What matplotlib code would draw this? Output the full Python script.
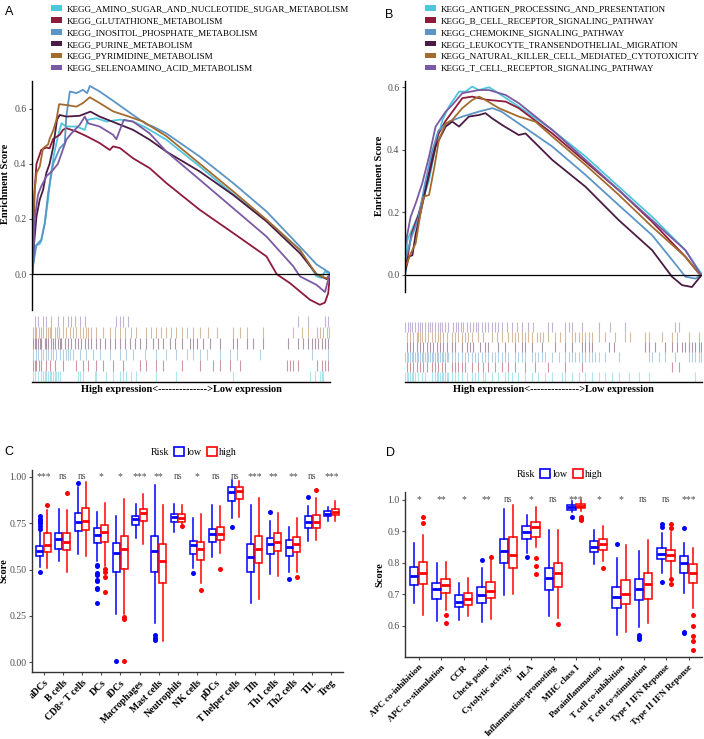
import matplotlib
matplotlib.use('Agg')
import matplotlib.pyplot as plt
from matplotlib.patches import Patch
from matplotlib.lines import Line2D

plt.rcParams['font.family'] = ['Liberation Serif', 'DejaVu Serif']

# ---------------- GSEA data (x = rank position in %, y = enrichment score) ----------------
A_names = ['KEGG_AMINO_SUGAR_AND_NUCLEOTIDE_SUGAR_METABOLISM', 'KEGG_GLUTATHIONE_METABOLISM',
           'KEGG_INOSITOL_PHOSPHATE_METABOLISM', 'KEGG_PURINE_METABOLISM',
           'KEGG_PYRIMIDINE_METABOLISM', 'KEGG_SELENOAMINO_ACID_METABOLISM']
B_names = ['KEGG_ANTIGEN_PROCESSING_AND_PRESENTATION', 'KEGG_B_CELL_RECEPTOR_SIGNALING_PATHWAY',
           'KEGG_CHEMOKINE_SIGNALING_PATHWAY', 'KEGG_LEUKOCYTE_TRANSENDOTHELIAL_MIGRATION',
           'KEGG_NATURAL_KILLER_CELL_MEDIATED_CYTOTOXICITY', 'KEGG_T_CELL_RECEPTOR_SIGNALING_PATHWAY']
gsea_colors = ['#4ec6db', '#8e1b3b', '#5b95c6', '#4a1c44', '#a36b2d', '#7a5aa3']

A_x = [
    [0.3, 0.9, 2.6, 3.1, 4.3, 5.4, 6.2, 7.3, 8.7, 9.9, 11.5, 14.9, 17.7, 18.8, 21.6, 25.0, 29.5, 33.9,
     38.4, 45.1, 56.3, 67.5, 78.7, 89.9, 95.5, 97.2, 98.3, 100],
    [0.3, 0.9, 1.5, 3.1, 4.8, 5.9, 7.1, 9.3, 10.4, 11.5, 14.9, 18.3, 22.7, 26.1, 27.2, 29.5, 33.9, 39.5,
     45.1, 56.3, 67.5, 78.7, 82.1, 86.6, 93.3, 96.6, 98.3, 99.4, 100],
    [0.3, 1.5, 3.1, 4.3, 5.4, 7.1, 9.3, 11.0, 11.5, 12.7, 14.9, 17.1, 18.5, 19.4, 22.7, 28.3, 33.9, 38.4,
     40.6, 45.1, 56.3, 67.5, 78.7, 89.9, 95.5, 100],
    [0.3, 1.5, 2.6, 3.7, 4.8, 5.9, 7.1, 8.4, 9.3, 11.5, 16.0, 19.6, 22.7, 28.3, 33.9, 39.5, 45.1, 56.3,
     67.5, 78.7, 89.9, 95.5, 98.9, 100],
    [0.3, 0.7, 1.5, 2.6, 3.7, 5.4, 5.9, 7.1, 8.2, 9.1, 11.5, 14.9, 17.1, 19.4, 22.7, 27.2, 31.7, 37.3,
     45.1, 56.3, 67.5, 78.7, 89.9, 95.5, 98.9, 100],
    [0.3, 0.9, 2.0, 3.1, 4.8, 7.1, 8.7, 11.5, 13.2, 16.0, 17.7, 18.8, 22.7, 27.2, 28.3, 30.8, 33.9, 39.5,
     45.1, 56.3, 67.5, 78.7, 87.7, 89.9, 95.5, 98.3, 99.4, 100],
]
A_es = [
    [0.028, 0.10, 0.11, 0.12, 0.185, 0.27, 0.35, 0.43, 0.50, 0.547, 0.535, 0.535, 0.523, 0.56, 0.565,
     0.553, 0.56, 0.553, 0.53, 0.487, 0.39, 0.29, 0.197, 0.088, -0.008, -0.014, 0.01, 0.0],
    [0.076, 0.305, 0.40, 0.45, 0.459, 0.456, 0.49, 0.505, 0.523, 0.529, 0.517, 0.50, 0.475, 0.45, 0.463,
     0.457, 0.42, 0.384, 0.33, 0.233, 0.149, 0.064, 0.0, -0.033, -0.093, -0.111, -0.103, -0.069, 0.0],
    [0.028, 0.106, 0.124, 0.185, 0.293, 0.40, 0.456, 0.475, 0.571, 0.662, 0.656, 0.668, 0.656, 0.682,
     0.662, 0.62, 0.577, 0.543, 0.535, 0.51, 0.426, 0.33, 0.227, 0.10, 0.035, 0.004],
    [0.064, 0.209, 0.27, 0.305, 0.366, 0.40, 0.46, 0.56, 0.577, 0.571, 0.574, 0.589, 0.571, 0.547,
     0.523, 0.487, 0.444, 0.372, 0.287, 0.191, 0.076, 0.0, -0.018, 0.0],
    [0.05, 0.28, 0.366, 0.39, 0.456, 0.47, 0.49, 0.52, 0.56, 0.616, 0.613, 0.607, 0.62, 0.641, 0.62,
     0.59, 0.574, 0.553, 0.50, 0.40, 0.30, 0.197, 0.088, -0.002, -0.015, 0.0],
    [0.004, 0.197, 0.287, 0.318, 0.354, 0.378, 0.40, 0.487, 0.51, 0.541, 0.571, 0.547, 0.535, 0.505,
     0.489, 0.559, 0.553, 0.51, 0.444, 0.342, 0.239, 0.136, 0.028, -0.008, -0.039, -0.065, -0.02, 0.0],
]

B_x = [
    [0.2, 0.8, 4.7, 8.1, 10.3, 12.6, 14.8, 18.2, 20.4, 22.6, 24.9, 28.3, 31.6, 38.3, 49.6, 60.8, 72.0,
     83.2, 94.4, 97.8, 100],
    [0.2, 2.2, 4.5, 6.7, 9.0, 11.2, 13.5, 16.6, 19.3, 22.6, 27.4, 33.9, 38.3, 49.6, 60.8, 72.0, 83.2,
     94.4, 99.0, 100],
    [0.2, 2.2, 4.5, 6.7, 9.0, 11.2, 13.5, 16.3, 19.3, 24.9, 29.4, 32.5, 38.3, 49.6, 60.8, 72.0, 83.2,
     90.0, 94.4, 97.8, 100],
    [0.2, 1.3, 2.5, 3.6, 4.7, 6.9, 10.3, 13.7, 15.9, 18.2, 21.5, 24.9, 27.1, 29.4, 32.7, 38.3, 40.6,
     49.6, 60.8, 72.0, 83.2, 89.9, 93.3, 96.6, 98.9, 100],
    [0.2, 1.9, 3.6, 5.2, 6.3, 8.1, 9.9, 11.4, 13.7, 15.9, 19.3, 22.6, 24.9, 27.1, 31.6, 38.3, 43.9,
     49.6, 60.8, 72.0, 83.2, 94.4, 99.0, 100],
    [0.2, 1.9, 3.6, 5.8, 8.1, 10.3, 13.7, 15.9, 19.3, 24.9, 28.3, 33.9, 38.3, 49.6, 60.8, 72.0, 83.2,
     94.4, 99.4, 100],
]
B_es = [
    [0.003, 0.11, 0.196, 0.303, 0.41, 0.495, 0.538, 0.586, 0.586, 0.602, 0.591, 0.60, 0.58, 0.538,
     0.463, 0.378, 0.281, 0.185, 0.078, 0.03, 0.0],
    [0.02, 0.13, 0.19, 0.27, 0.37, 0.45, 0.49, 0.53, 0.565, 0.57, 0.56, 0.554, 0.533, 0.452, 0.361,
     0.27, 0.169, 0.057, 0.003, 0.0],
    [0.05, 0.12, 0.18, 0.29, 0.39, 0.46, 0.48, 0.495, 0.506, 0.522, 0.533, 0.522, 0.484, 0.41, 0.319,
     0.222, 0.126, 0.046, -0.007, -0.013, 0.0],
    [0.014, 0.057, 0.062, 0.13, 0.175, 0.27, 0.41, 0.474, 0.49, 0.474, 0.506, 0.511, 0.517, 0.50, 0.479,
     0.447, 0.452, 0.367, 0.281, 0.174, 0.078, -0.007, -0.034, -0.04, -0.013, 0.0],
    [0.025, 0.067, 0.10, 0.196, 0.249, 0.255, 0.345, 0.431, 0.484, 0.495, 0.533, 0.559, 0.57, 0.559,
     0.533, 0.506, 0.49, 0.442, 0.351, 0.255, 0.153, 0.057, 0.003, 0.0],
    [0.1, 0.185, 0.228, 0.292, 0.378, 0.474, 0.522, 0.543, 0.581, 0.591, 0.591, 0.575, 0.549, 0.463,
     0.367, 0.27, 0.174, 0.078, 0.003, 0.0],
]

# gene-set hit ranks (ranked list of N genes)
A_N = 893
A_hits = [
    [3, 8, 18, 28, 33, 38, 43, 48, 53, 58, 63, 68, 73, 78, 83, 138, 143, 153, 188, 193, 223, 243, 263,
     273, 283, 298, 313, 373, 433, 603, 833, 848, 863, 868, 873],
    [3, 8, 13, 21, 28, 43, 53, 68, 93, 133, 153, 168, 193, 213, 243, 273, 323, 343, 373, 393, 448, 503,
     543, 563, 593, 623, 763, 773, 783, 798, 853, 868, 878, 888],
    [3, 13, 18, 28, 33, 43, 48, 58, 63, 73, 83, 93, 103, 108, 113, 123, 143, 163, 183, 203, 233, 263,
     283, 303, 338, 373, 403, 433, 463, 483, 503, 523, 563, 593, 613, 683, 838, 888],
    [3, 8, 13, 18, 23, 28, 38, 43, 48, 58, 63, 68, 78, 83, 88, 98, 108, 118, 128, 138, 148, 158, 168,
     178, 193, 203, 218, 233, 248, 263, 278, 293, 308, 323, 343, 363, 378, 393, 413, 428, 448, 473, 483,
     493, 513, 533, 563, 603, 613, 643, 663, 693, 768, 798, 813, 828, 838, 848, 858, 868, 878, 888],
    [3, 8, 13, 21, 28, 33, 43, 48, 53, 58, 68, 75, 81, 93, 103, 113, 123, 133, 143, 153, 163, 168, 178,
     193, 213, 233, 248, 263, 278, 298, 313, 343, 358, 373, 388, 403, 418, 433, 448, 463, 483, 503, 528,
     553, 603, 623, 643, 693, 783, 808, 828, 853, 863, 873, 883, 891],
    [8, 18, 33, 43, 58, 78, 93, 108, 118, 128, 143, 158, 253, 263, 273, 288, 798, 828, 878, 888],
]
B_N = 890
B_hits = [
    [0, 5, 10, 15, 20, 25, 30, 40, 50, 60, 80, 90, 95, 100, 105, 110, 115, 120, 125, 130, 140, 150, 160,
     170, 185, 200, 210, 220, 235, 240, 260, 280, 300, 310, 320, 340, 360, 380, 400, 420, 440, 470, 480,
     500, 520, 540, 560, 580, 600, 620, 640, 670, 700, 730, 870],
    [5, 15, 25, 35, 45, 55, 65, 80, 90, 100, 110, 120, 140, 150, 160, 170, 180, 200, 220, 235, 250, 270,
     290, 310, 330, 360, 390, 430, 480, 530, 800, 820],
    [0, 5, 10, 15, 20, 25, 30, 35, 40, 45, 50, 55, 60, 65, 70, 75, 80, 85, 90, 95, 100, 105, 110, 115,
     120, 125, 130, 140, 150, 160, 170, 180, 190, 200, 210, 220, 230, 240, 250, 260, 270, 280, 290, 300,
     310, 330, 340, 350, 360, 380, 390, 400, 410, 420, 440, 460, 480, 490, 500, 510, 520, 530, 540, 550,
     560, 570, 580, 600, 640, 730, 740, 760, 780, 810, 850, 860, 870, 880, 888],
    [5, 15, 25, 35, 45, 55, 65, 75, 85, 95, 105, 115, 125, 140, 150, 170, 185, 195, 205, 225, 240, 250,
     280, 300, 330, 350, 360, 380, 410, 450, 480, 500, 530, 540, 550, 560, 610, 625, 720, 730, 750, 780,
     800, 815, 830, 840, 850, 860, 870, 880, 888],
    [5, 15, 25, 35, 40, 45, 50, 60, 70, 80, 90, 98, 105, 115, 125, 140, 150, 160, 170, 180, 190, 200,
     220, 235, 260, 275, 290, 310, 320, 330, 340, 350, 360, 370, 380, 395, 405, 415, 430, 450, 465, 480,
     500, 510, 520, 530, 540, 550, 560, 580, 600, 630, 660, 675, 720, 730, 770, 800, 815, 850, 880],
    [0, 8, 15, 22, 30, 38, 45, 52, 60, 68, 75, 82, 90, 98, 105, 112, 120, 128, 145, 152, 160, 168, 175,
     185, 195, 205, 212, 220, 230, 240, 250, 260, 270, 280, 290, 305, 320, 335, 350, 370, 385, 430, 440,
     480, 490, 500, 530, 580, 615, 660, 810, 820],
]

# ---------------- Immune box plot data: (whislo, q1, median, q3, whishi) ----------------
C_cats = ['aDCs', 'B cells', 'CD8+ T cells', 'DCs', 'iDCs', 'Macrophages', 'Mast cells', 'Neutrophils',
          'NK cells', 'pDCs', 'T helper cells', 'Tfh', 'Th1 cells', 'Th2 cells', 'TIL', 'Treg']
C_sig = ['***', 'ns', 'ns', '*', '*', '***', '**', 'ns', '*', 'ns', 'ns', '***', '**', '**', 'ns', '***']
C_low = [
    (0.516, 0.573, 0.600, 0.626, 0.700), (0.546, 0.612, 0.662, 0.694, 0.827),
    (0.582, 0.706, 0.756, 0.804, 0.947), (0.546, 0.644, 0.685, 0.724, 0.810),
    (0.260, 0.484, 0.590, 0.644, 0.786), (0.670, 0.742, 0.774, 0.790, 0.852),
    (0.214, 0.484, 0.600, 0.683, 0.955), (0.700, 0.756, 0.783, 0.800, 0.854),
    (0.507, 0.582, 0.630, 0.653, 0.778), (0.568, 0.648, 0.689, 0.719, 0.849),
    (0.778, 0.867, 0.916, 0.947, 0.982), (0.320, 0.484, 0.568, 0.635, 0.845),
    (0.475, 0.582, 0.635, 0.671, 0.760), (0.484, 0.573, 0.623, 0.658, 0.730),
    (0.653, 0.724, 0.756, 0.786, 0.843), (0.760, 0.790, 0.800, 0.813, 0.835),
]
C_low_out = [
    [0.484, 0.72, 0.735, 0.75, 0.76, 0.77, 0.787], [], [0.968],
    [0.527, 0.518, 0.482, 0.473, 0.446, 0.438, 0.40, 0.393, 0.32], [0.005], [],
    [0.145, 0.132, 0.12], [], [0.479], [], [0.728], [], [0.808], [0.448], [0.89], [],
]
C_high = [
    (0.510, 0.594, 0.630, 0.698, 0.820), (0.488, 0.603, 0.650, 0.694, 0.822),
    (0.573, 0.715, 0.763, 0.831, 0.973), (0.520, 0.650, 0.700, 0.742, 0.858),
    (0.260, 0.505, 0.612, 0.680, 0.879), (0.635, 0.763, 0.804, 0.826, 0.907),
    (0.114, 0.427, 0.546, 0.640, 0.845), (0.745, 0.756, 0.778, 0.800, 0.849),
    (0.430, 0.552, 0.608, 0.649, 0.800), (0.587, 0.658, 0.690, 0.728, 0.842),
    (0.783, 0.879, 0.923, 0.947, 0.979), (0.340, 0.534, 0.609, 0.680, 0.884),
    (0.466, 0.600, 0.650, 0.694, 0.804), (0.484, 0.594, 0.639, 0.674, 0.778),
    (0.658, 0.724, 0.756, 0.792, 0.884), (0.763, 0.795, 0.811, 0.826, 0.867),
]
C_high_out = [
    [0.849], [0.911], [], [0.504, 0.486, 0.46, 0.38], [0.236, 0.242, 0.005], [], [], [0.735],
    [0.388], [0.502], [], [], [], [0.46], [0.929], [],
]

D_cats = ['APC co-inhibition', 'APC co-stimulation', 'CCR', 'Check point', 'Cytolytic activity', 'HLA',
          'Inflammation-promoting', 'MHC class I', 'Parainflammation', 'T cell co-inhibition',
          'T cell co-stimulation', 'Type I IFN Reponse', 'Type II IFN Reponse']
D_sig = ['*', '**', '*', '**', 'ns', '*', 'ns', '***', '*', '*', 'ns', 'ns', '***']
D_low = [
    (0.671, 0.729, 0.759, 0.787, 0.863), (0.615, 0.684, 0.716, 0.737, 0.800),
    (0.618, 0.658, 0.675, 0.696, 0.737), (0.610, 0.673, 0.698, 0.724, 0.782),
    (0.698, 0.800, 0.837, 0.877, 0.972), (0.830, 0.877, 0.898, 0.917, 0.953),
    (0.631, 0.714, 0.750, 0.782, 0.905), (0.961, 0.969, 0.977, 0.984, 0.996),
    (0.796, 0.833, 0.851, 0.868, 0.905), (0.571, 0.656, 0.690, 0.724, 0.816),
    (0.597, 0.680, 0.716, 0.747, 0.837), (0.766, 0.812, 0.829, 0.848, 0.895),
    (0.703, 0.768, 0.798, 0.821, 0.863),
]
D_low_out = [[], [], [], [0.81], [], [0.817], [], [0.947], [], [0.858], [0.571, 0.565, 0.557],
             [0.924, 0.914, 0.74], [0.912, 0.581, 0.576]]
D_high = [
    (0.634, 0.733, 0.768, 0.803, 0.887), (0.650, 0.703, 0.729, 0.747, 0.803),
    (0.629, 0.665, 0.684, 0.705, 0.750), (0.620, 0.687, 0.711, 0.740, 0.808),
    (0.700, 0.782, 0.824, 0.882, 0.985), (0.850, 0.882, 0.914, 0.928, 0.977),
    (0.624, 0.724, 0.766, 0.800, 0.905), (0.966, 0.975, 0.982, 0.987, 0.998),
    (0.805, 0.840, 0.859, 0.877, 0.916), (0.581, 0.669, 0.700, 0.745, 0.856),
    (0.608, 0.684, 0.732, 0.766, 0.872), (0.756, 0.805, 0.824, 0.842, 0.898),
    (0.655, 0.737, 0.766, 0.796, 0.848),
]
D_high_out = [[0.945, 0.926], [0.634, 0.608], [], [0.819], [], [0.814, 0.79, 0.763], [0.606],
              [0.947, 0.943, 0.939, 0.935], [0.784], [], [], [0.924, 0.91, 0.747, 0.733],
              [0.634, 0.599, 0.566, 0.551, 0.523]]

W, H = 704, 739
fig = plt.figure(figsize=(W / 100, H / 100), dpi=100)
GREY = '#4d4d4d'


def add_ax(x0, y0, x1, y1):
    return fig.add_axes([x0 / W, 1 - y1 / H, (x1 - x0) / W, (y1 - y0) / H])


def gsea_panel(x0, x1, y_top, y_bot, ylim, rug_top, rug_bot, xs, ess, hits, n, names, leg_x, ylab_x):
    ax = add_ax(x0, y_top, x1, y_bot)
    for x, e, c in zip(xs, ess, gsea_colors):
        ax.plot(x, e, color=c, lw=1.3)
    ax.axhline(0, color='black', lw=0.9)
    ax.set_xlim(0, 100)
    ax.set_ylim(*ylim)
    ax.set_yticks([0.0, 0.2, 0.4, 0.6])
    ax.set_yticklabels(['0.0', '0.2', '0.4', '0.6'])
    ax.set_xticks([])
    for s in ['top', 'right', 'bottom']:
        ax.spines[s].set_visible(False)
    ax.spines['left'].set_linewidth(1.0)
    ax.tick_params(axis='y', labelsize=7, colors=GREY, length=2.5, width=0.8, pad=1.5)
    ax.set_ylabel('Enrichment Score', fontsize=7.5, fontweight='bold')
    ax.yaxis.set_label_coords((ylab_x - x0) / (x1 - x0), 0.55)

    rug = add_ax(x0, rug_top, x1, rug_bot)
    for row, (h, c) in enumerate(zip(hits, gsea_colors)):
        rug.vlines(h, row, row + 1, colors=c, lw=0.8, alpha=0.45)
    rug.set_xlim(0, n)
    rug.set_ylim(0, 6)
    rug.set_xticks([])
    rug.set_yticks([])
    for s in ['top', 'right', 'left']:
        rug.spines[s].set_visible(False)
    rug.spines['bottom'].set_linewidth(1.0)
    rug.set_xlabel('High expression<-------------->Low expression', fontsize=7.5,
                   fontweight='bold', labelpad=2)

    handles = [Patch(facecolor=c, edgecolor='none') for c in gsea_colors]
    fig.legend(handles, names, loc='upper left', bbox_to_anchor=(leg_x / W, 1 + 1 / H),
               frameon=False, fontsize=6.55, handlelength=1.15, handleheight=0.55,
               labelspacing=0.42, handletextpad=0.5, borderpad=0.2)
    return ax


gsea_panel(32, 330, 81, 310, (-0.13, 0.70), 316, 382, A_x, A_es, A_hits, A_N, A_names, 45, 10)
gsea_panel(405, 702, 81, 292, (-0.056, 0.62), 322, 382, B_x, B_es, B_hits, B_N, B_names, 419, 384)


def stats(vals, out):
    lo, q1, med, q3, hi = vals
    return {'whislo': lo, 'q1': q1, 'med': med, 'q3': q3, 'whishi': hi, 'fliers': out}


def box_panel(x0, x1, y_top, y_bot, ylim, cats, low, low_out, high, high_out, sig, yticks, ytl,
              sig_y, leg_y, ylab_x, cat_fs):
    ax = add_ax(x0, y_top, x1, y_bot)
    n = len(cats)
    for data, outs, color, off in [(low, low_out, '#0000ff', -0.2), (high, high_out, '#ff0000', 0.2)]:
        bstats = [stats(v, o) for v, o in zip(data, outs)]
        ax.bxp(bstats, positions=[i + 1 + off for i in range(n)], widths=0.36, showcaps=False,
               patch_artist=True, manage_ticks=False,
               boxprops=dict(facecolor='white', edgecolor=color, linewidth=1.1),
               medianprops=dict(color=color, linewidth=2.0),
               whiskerprops=dict(color=color, linewidth=1.1),
               flierprops=dict(marker='o', markerfacecolor=color, markeredgecolor='none',
                               markersize=3.6))
    for i, s in enumerate(sig):
        ax.text(i + 1, sig_y, s, ha='center', va='center', fontsize=7, color=GREY)
    ax.set_xlim(0.4, n + 0.6)
    ax.set_ylim(*ylim)
    ax.set_xticks(range(1, n + 1))
    ax.set_xticklabels(cats, rotation=45, ha='right', rotation_mode='anchor', fontsize=cat_fs,
                       fontweight='bold')
    ax.set_yticks(yticks)
    ax.set_yticklabels(ytl)
    ax.tick_params(axis='y', labelsize=7, colors=GREY, length=2.5, width=0.8, pad=1.5)
    ax.tick_params(axis='x', colors=GREY, length=2.5, width=0.8, pad=2)
    for lab in ax.get_xticklabels():
        lab.set_color('black')
    for s in ['top', 'right']:
        ax.spines[s].set_visible(False)
    for s in ['left', 'bottom']:
        ax.spines[s].set_linewidth(1.0)
        ax.spines[s].set_color('#333333')
    ax.set_ylabel('Score', fontsize=7.5, fontweight='bold')
    ax.yaxis.set_label_coords((ylab_x - x0) / (x1 - x0), 0.5)
    handles = [Line2D([], [], alpha=0),
               Patch(facecolor='white', edgecolor='#0000ff', linewidth=1.2),
               Patch(facecolor='white', edgecolor='#ff0000', linewidth=1.2)]
    ax.legend(handles, ['Risk', 'low', 'high'], ncol=3, loc='center',
              bbox_to_anchor=(0.5, 1 + (y_top - leg_y) / (y_bot - y_top)), frameon=False,
              fontsize=7.2, handlelength=1.0, handleheight=0.9, handletextpad=0.25,
              columnspacing=0.5)
    return ax


box_panel(32, 343, 470, 672, (-0.052, 1.036), C_cats, C_low, C_low_out, C_high, C_high_out, C_sig,
          [0.0, 0.25, 0.5, 0.75, 1.0], ['0.00', '0.25', '0.50', '0.75', '1.00'], 1.0, 452, 8, 7)
box_panel(405, 702, 492, 657, (0.50, 1.025), D_cats, D_low, D_low_out, D_high, D_high_out, D_sig,
          [0.6, 0.7, 0.8, 0.9, 1.0], ['0.6', '0.7', '0.8', '0.9', '1.0'], 1.0, 474, 384, 6.6)

for lab, x, y in [('A', 5, 12), ('B', 385, 15), ('C', 4, 452), ('D', 386, 453)]:
    fig.text(x / W, 1 - y / H, lab, fontsize=9, family='Liberation Sans', va='center')

fig.savefig('out.png', dpi=100)
